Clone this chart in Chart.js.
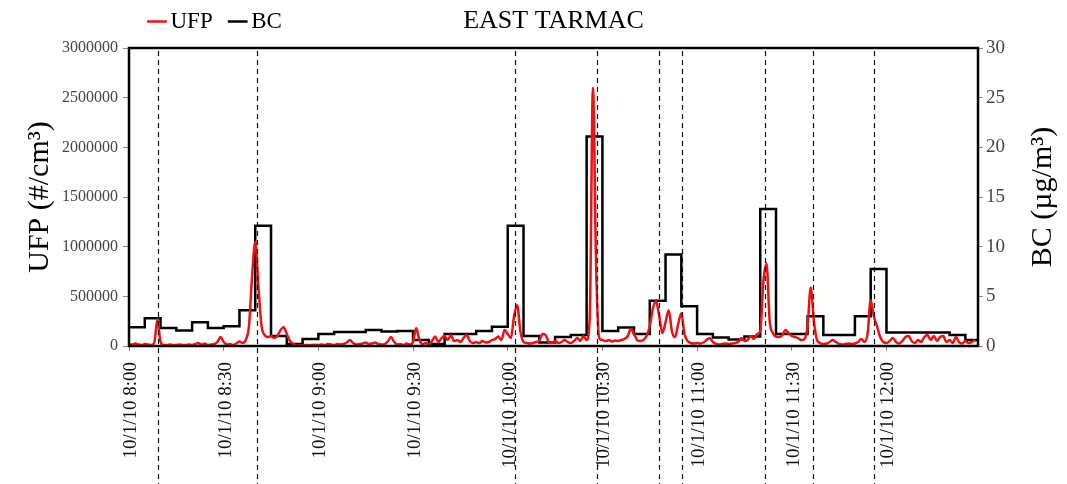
<!DOCTYPE html>
<html>
<head>
<meta charset="utf-8">
<script src="https://cdn.jsdelivr.net/npm/chart.js@4.4.1/dist/chart.umd.min.js"></script>
<style>
  html, body { margin: 0; padding: 0; background: #fff; }
</style>
</head>
<body>
<canvas id="chart" width="1067" height="484"></canvas>
<script>
const chartTitle = 'EAST TARMAC';
const ufpLabel = 'UFP';
const bcLabel = 'BC';
const ufpAxisTitle = 'UFP (#/cm³)';
const bcAxisTitle = 'BC (µg/m³)';

// time is in minutes after 8:00
const endMinute = 269;
const binMinutes = 5;
const tickMinutes = [0, 30, 60, 90, 120, 150, 180, 210, 240];
const tickLabels = ['10/1/10 8:00', '10/1/10 8:30', '10/1/10 9:00', '10/1/10 9:30', '10/1/10 10:00',
  '10/1/10 10:30', '10/1/10 11:00', '10/1/10 11:30', '10/1/10 12:00'];

// dashed markers
const eventMinutes = [9.2, 40.6, 122.4, 148.4, 168, 175.3, 201.6, 216.6, 235.9];

// UFP, one value per minute
const ufpValues = [
  20000, 15000, 25000, 15000, 10000, 20000, 15000, 10000, 30000, 270000,
  40000, 10000, 10000, 15000, 10000, 10000, 15000, 10000, 10000, 15000,
  10000, 20000, 30000, 15000, 25000, 10000, 15000, 20000, 40000, 90000,
  40000, 15000, 20000, 10000, 25000, 45000, 30000, 60000, 200000, 700000,
  1050000, 600000, 200000, 110000, 90000, 100000, 80000, 100000, 160000, 190000,
  120000, 50000, 20000, 10000, 5000, 8000, 10000, 8000, 10000, 12000,
  10000, 15000, 10000, 20000, 15000, 10000, 20000, 15000, 20000, 35000,
  60000, 30000, 15000, 20000, 25000, 35000, 20000, 25000, 35000, 20000,
  15000, 20000, 45000, 90000, 40000, 15000, 20000, 10000, 25000, 15000,
  40000, 180000, 60000, 20000, 30000, 15000, 50000, 95000, 40000, 80000,
  100000, 60000, 110000, 50000, 60000, 40000, 80000, 110000, 50000, 30000,
  40000, 30000, 50000, 35000, 40000, 60000, 70000, 95000, 60000, 160000,
  120000, 80000, 300000, 410000, 150000, 40000, 30000, 25000, 30000, 40000,
  50000, 120000, 110000, 40000, 30000, 50000, 30000, 40000, 60000, 40000,
  30000, 50000, 80000, 50000, 100000, 60000, 300000, 2600000, 800000, 80000,
  60000, 50000, 60000, 45000, 55000, 50000, 60000, 70000, 100000, 170000,
  120000, 60000, 50000, 60000, 100000, 200000, 380000, 450000, 300000, 130000,
  240000, 360000, 150000, 90000, 220000, 330000, 120000, 50000, 30000, 25000,
  30000, 25000, 35000, 60000, 80000, 40000, 20000, 15000, 20000, 25000,
  20000, 25000, 30000, 40000, 80000, 50000, 60000, 100000, 70000, 120000,
  150000, 650000, 830000, 250000, 130000, 95000, 90000, 110000, 160000, 130000,
  100000, 90000, 80000, 60000, 70000, 200000, 590000, 250000, 60000, 30000,
  20000, 25000, 40000, 60000, 40000, 20000, 15000, 20000, 25000, 20000,
  25000, 40000, 70000, 40000, 120000, 460000, 300000, 200000, 90000, 40000,
  30000, 50000, 80000, 40000, 25000, 50000, 90000, 100000, 50000, 30000,
  60000, 40000, 90000, 110000, 60000, 100000, 50000, 90000, 100000, 40000,
  60000, 30000, 90000, 40000, 25000, 50000, 30000, 40000, 60000
];

// BC, 5-minute averages
const bcValues = [
  1.9, 2.8, 1.8, 1.55, 2.4, 1.8, 2.0, 3.6, 12.1, 1.0,
  0.2, 0.7, 1.2, 1.4, 1.4, 1.6, 1.45, 1.5, 0.6, 0.2,
  1.2, 1.2, 1.5, 1.95, 12.1, 1.0, 0.35, 0.9, 1.1, 21.1,
  1.5, 1.85, 1.2, 4.55, 9.2, 4.0, 1.2, 0.85, 0.65, 0.95,
  13.8, 1.2, 1.2, 3.0, 1.1, 1.1, 3.0, 7.75, 1.35, 1.35,
  1.35, 1.35, 1.1, 0.6
];

const serif = '"Liberation Serif", "Times New Roman", serif';

const ufpPoints = ufpValues.map((v, i) => ({ x: i, y: v }));
const bcPoints = bcValues.map((v, i) => ({ x: i * binMinutes, y: v }));
bcPoints.push({ x: endMinute, y: bcValues[bcValues.length - 1] });

const framePlugin = {
  id: 'frame',
  afterLayout(chart) {
    const a = chart.chartArea;
    // title centred over the plot, legend on the same row at the left
    const t = chart.titleBlock;
    t.left = a.left;
    t.right = a.right;
    const lg = chart.legend;
    lg.left = 132;
    lg.right = 700;
    lg.top = -13;
    lg.bottom = 45;
    lg.height = lg.bottom - lg.top;
  },
  afterDatasetsDraw(chart) {
    const { ctx, chartArea: a } = chart;
    ctx.save();
    ctx.lineWidth = 2.5;
    ctx.strokeStyle = '#000';
    ctx.strokeRect(a.left, a.top, a.right - a.left, a.bottom - a.top);
    ctx.restore();
  },
  afterDraw(chart) {
    const { ctx, chartArea: a, scales } = chart;
    ctx.save();
    ctx.setLineDash([5, 4]);
    ctx.lineWidth = 1.2;
    ctx.strokeStyle = '#111';
    eventMinutes.forEach(m => {
      const x = Math.round(scales.x.getPixelForValue(m)) + 0.5;
      ctx.beginPath();
      ctx.moveTo(x, a.top + 3);
      ctx.lineTo(x, chart.height);
      ctx.stroke();
    });
    ctx.setLineDash([]);
    // right axis title reads bottom to top like the left one
    ctx.translate(1043, (a.top + a.bottom) / 2);
    ctx.rotate(-Math.PI / 2);
    ctx.font = '30px ' + serif;
    ctx.fillStyle = '#000';
    ctx.textAlign = 'center';
    ctx.textBaseline = 'middle';
    ctx.fillText(bcAxisTitle, 0, 0);
    ctx.restore();
  }
};

new Chart(document.getElementById('chart'), {
  type: 'line',
  data: {
    datasets: [{
      label: ufpLabel,
      data: ufpPoints,
      borderColor: '#ee1111',
      backgroundColor: '#ee1111',
      borderWidth: 2.5,
      pointRadius: 0,
      tension: 0.4,
      cubicInterpolationMode: 'monotone',
      yAxisID: 'y'
    }, {
      label: bcLabel,
      data: bcPoints,
      borderColor: '#000',
      backgroundColor: '#000',
      borderWidth: 2.5,
      pointRadius: 0,
      stepped: 'before',
      yAxisID: 'y1'
    }]
  },
  options: {
    responsive: false,
    animation: false,
    devicePixelRatio: 1,
    layout: { padding: 0 },
    plugins: {
      title: {
        display: true,
        text: chartTitle,
        color: '#000',
        font: { family: serif, size: 26, weight: 'normal' },
        padding: { top: 5.4, bottom: 1.4 }
      },
      legend: {
        display: true,
        position: 'top',
        align: 'start',
        maxHeight: 10,
        labels: {
          usePointStyle: true,
          pointStyle: 'line',
          boxWidth: 4,
          boxHeight: 14,
          padding: 23,
          color: '#000',
          font: { family: serif, size: 23 }
        }
      },
      tooltip: { enabled: false }
    },
    scales: {
      x: {
        type: 'linear',
        min: 0,
        max: endMinute,
        afterBuildTicks: s => { s.ticks = tickMinutes.map(v => ({ value: v })); },
        afterFit: s => { s.height = 138; },
        grid: { drawOnChartArea: false, tickLength: 5, color: '#888' },
        border: { display: false },
        ticks: {
          autoSkip: false,
          maxRotation: 90,
          minRotation: 90,
          padding: 11,
          labelOffset: 2,
          color: '#111',
          font: { family: serif, size: 19 },
          callback: v => tickLabels[tickMinutes.indexOf(v)]
        }
      },
      y: {
        position: 'left',
        min: 0,
        max: 3000000,
        afterFit: s => { s.width = 129; },
        grid: { drawOnChartArea: false, tickLength: 6, color: '#888' },
        border: { display: false },
        ticks: {
          stepSize: 500000,
          padding: 5,
          color: '#444',
          font: { family: serif, size: 16 },
          callback: v => String(v)
        },
        title: {
          display: true,
          text: ufpAxisTitle,
          color: '#000',
          font: { family: serif, size: 30 },
          padding: { top: 22, bottom: 0 }
        }
      },
      y1: {
        position: 'right',
        min: 0,
        max: 30,
        afterFit: s => { s.width = 89; },
        grid: { drawOnChartArea: false, tickLength: 5, color: '#888' },
        border: { display: false },
        ticks: {
          stepSize: 5,
          padding: 3,
          color: '#444',
          font: { family: serif, size: 19 }
        }
      }
    }
  },
  plugins: [framePlugin]
});
</script>
</body>
</html>
